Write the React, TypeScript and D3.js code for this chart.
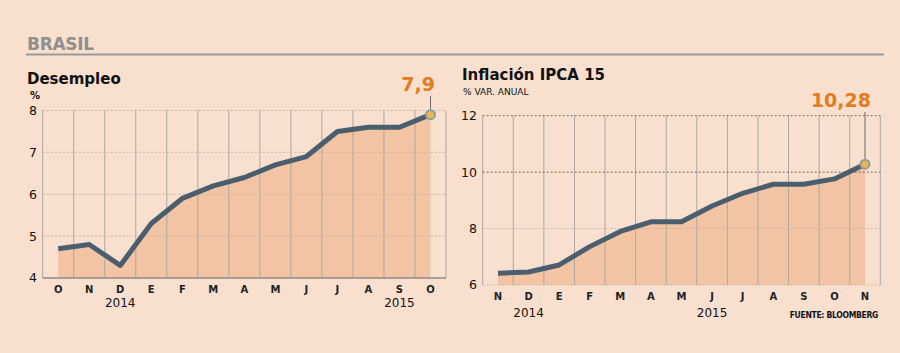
import React from 'react'
import * as d3 from 'd3'

// Desempleo (%), oct 2014 - oct 2015
const desempleoMonths = ['O', 'N', 'D', 'E', 'F', 'M', 'A', 'M', 'J', 'J', 'A', 'S', 'O']
const desempleoValues = [4.7, 4.8, 4.3, 5.3, 5.9, 6.2, 6.4, 6.7, 6.9, 7.5, 7.6, 7.6, 7.9]
const desempleoTicks = [4, 5, 6, 7, 8]

// Inflación IPCA 15 (% var. anual), nov 2014 - nov 2015
const ipcaMonths = ['N', 'D', 'E', 'F', 'M', 'A', 'M', 'J', 'J', 'A', 'S', 'O', 'N']
const ipcaValues = [6.42, 6.46, 6.71, 7.36, 7.9, 8.24, 8.24, 8.8, 9.25, 9.57, 9.57, 9.76, 10.28]
const ipcaTicks = [6, 8, 10, 12]

const BG = '#f9e0ce'
const AREA = '#f3c4a4'
const LINE = '#4a5e6e'
const ORANGE = '#e47b1c'
const FONT = '"DejaVu Sans", Verdana, sans-serif'

type PanelProps = {
  months: string[]
  values: number[]
  ticks: number[]
  x0: number
  x1: number
  yTop: number
  yBottom: number
  baseSolid: boolean
  darkTicks: number[]
  labelText: string
  labelY: number
  labelEnd: number
  years: { idx: number, text: string }[]
  monthY: number
  yearY: number
  tickEnd: number
}

function Panel(p: PanelProps) {
  const idx = d3.range(p.months.length)
  const x = d3.scaleBand<number>().domain(idx).range([p.x0, p.x1]).paddingInner(0).paddingOuter(0)
  const bw = x.bandwidth()
  const cx = (i: number) => (x(i) as number) + bw / 2
  const lo = d3.min(p.ticks) as number
  const hi = d3.max(p.ticks) as number
  const y = d3.scaleLinear().domain([lo, hi]).range([p.yBottom, p.yTop])

  const area = d3.area<number>().x((d, i) => cx(i)).y0(y(lo)).y1(d => y(d))
  const line = d3.line<number>().x((d, i) => cx(i)).y(d => y(d))
  const gridX = idx.map(i => x(i) as number).concat([p.x1])
  const last = p.values.length - 1

  return (
    <g>
      <path d={area(p.values) || ''} fill={AREA} />
      {gridX.map((gx, i) => (
        <line key={'v' + i} x1={gx} x2={gx} y1={y(hi)} y2={y(lo)} stroke="#ada7a1" strokeWidth={1} />
      ))}
      {p.ticks.map(t => (
        <g key={'t' + t}>
          {(t !== lo || !p.baseSolid) && (
            <line x1={p.x0} x2={p.x1} y1={y(t)} y2={y(t)}
              stroke={p.darkTicks.includes(t) ? '#6d6a68' : '#c9b6a8'}
              strokeWidth={1} strokeDasharray="2,2" />
          )}
          <text x={p.tickEnd} y={y(t)} dy="0.35em" textAnchor="end" fontSize={12.5} fill="#111" fontFamily={FONT}>{t}</text>
        </g>
      ))}
      {p.baseSolid && (
        <line x1={p.x0} x2={p.x1} y1={y(lo)} y2={y(lo)} stroke="#8e8a86" strokeWidth={1.5} />
      )}
      <path d={line(p.values) || ''} fill="none" stroke={LINE} strokeWidth={5} strokeLinejoin="round" />
      <line x1={cx(last)} x2={cx(last)} y1={p.labelY + 5} y2={y(p.values[last])} stroke="#6a6a6a" strokeWidth={1} />
      <circle cx={cx(last)} cy={y(p.values[last])} r={4.5} fill="#f0b548" stroke="#8c9cab" strokeWidth={2} />
      <text x={p.labelEnd} y={p.labelY} textAnchor="end" fontSize={19} fontWeight="bold" fill={ORANGE} fontFamily={FONT}>{p.labelText}</text>
      {p.months.map((m, i) => (
        <text key={'m' + i} x={cx(i)} y={p.monthY} textAnchor="middle" fontSize={10} fontWeight="bold" fill="#222" fontFamily={FONT}>{m}</text>
      ))}
      {p.years.map(yr => (
        <text key={yr.text} x={cx(yr.idx)} y={p.yearY} textAnchor="middle" fontSize={12} fill="#111" fontFamily={FONT}>{yr.text}</text>
      ))}
    </g>
  )
}

export default function App() {
  return (
    <div style={{ position: 'absolute', left: 0, top: 0 }}>
      <svg width={900} height={353} style={{ display: 'block' }}>
        <rect x={0} y={0} width={900} height={353} fill={BG} />
        <text x={27} y={50} fontSize={17} fontWeight="bold" fill="#8f8f8f" fontFamily={FONT} letterSpacing={-0.3}>BRASIL</text>
        <line x1={26} x2={884} y1={54.5} y2={54.5} stroke="#999" strokeWidth={2} />

        <text x={27} y={84} fontSize={15} fontWeight="bold" fill="#111" fontFamily={FONT}>Desempleo</text>
        <text x={30} y={99} fontSize={10} fontWeight="bold" fill="#111" fontFamily={FONT}>%</text>
        <Panel months={desempleoMonths} values={desempleoValues} ticks={desempleoTicks}
          x0={42.7} x1={446} yTop={110.5} yBottom={278} baseSolid={true} darkTicks={[]}
          labelText="7,9" labelY={91} labelEnd={435}
          years={[{ idx: 2, text: '2014' }, { idx: 11, text: '2015' }]}
          monthY={293} yearY={307} tickEnd={37} />

        <text x={462} y={80} fontSize={15} fontWeight="bold" fill="#111" fontFamily={FONT}>Inflación IPCA 15</text>
        <text x={463} y={95} fontSize={9} fill="#111" fontFamily={FONT}>% VAR. ANUAL</text>
        <Panel months={ipcaMonths} values={ipcaValues} ticks={ipcaTicks}
          x0={482.7} x1={880.3} yTop={115.7} yBottom={285} baseSolid={false} darkTicks={[10, 12]}
          labelText="10,28" labelY={107} labelEnd={871}
          years={[{ idx: 1, text: '2014' }, { idx: 7, text: '2015' }]}
          monthY={300} yearY={317} tickEnd={477} />
        <text x={878} y={318} textAnchor="end" fontSize={8.5} fontWeight="bold" fill="#111"
          fontFamily={'"DejaVu Sans Condensed", "DejaVu Sans", sans-serif'} letterSpacing={-0.3}>FUENTE: BLOOMBERG</text>
      </svg>
    </div>
  )
}
